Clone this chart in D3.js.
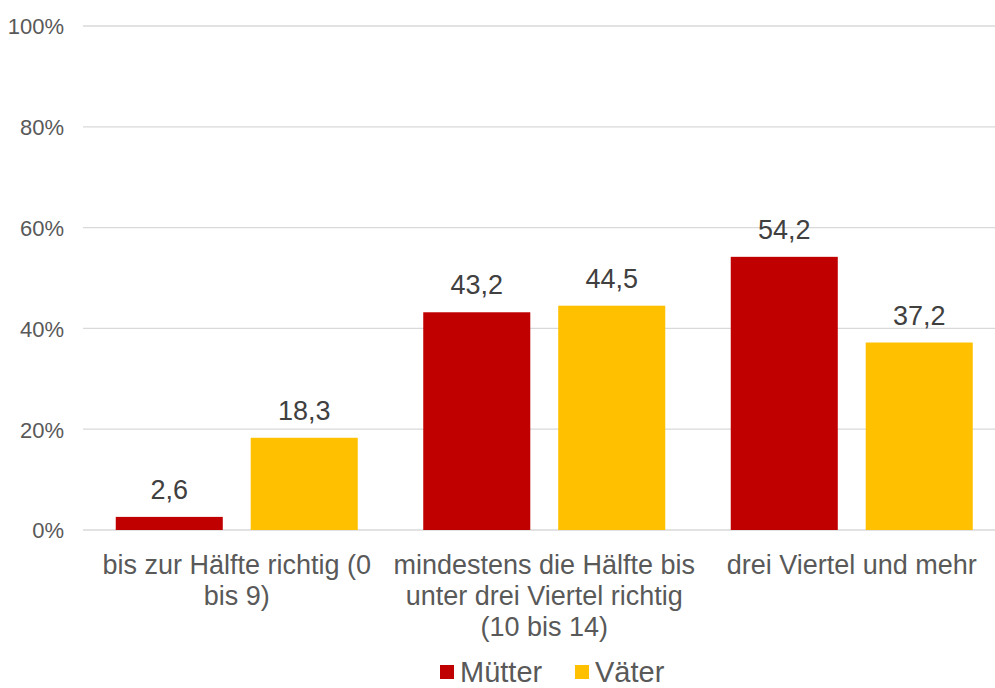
<!DOCTYPE html>
<html>
<head>
<meta charset="utf-8">
<script src="https://cdn.jsdelivr.net/npm/d3@7"></script>
<style>
  body { margin: 0; background: #fff; }
  svg { display: block; font-family: "Liberation Sans", Arial, sans-serif; }
</style>
</head>
<body>
<svg id="chart" width="995" height="688"></svg>
<script>
const categories = [
  "bis zur Hälfte richtig (0 bis 9)",
  "mindestens die Hälfte bis unter drei Viertel richtig (10 bis 14)",
  "drei Viertel und mehr"
];
const seriesNames = ["Mütter", "Väter"];
const muetter = [2.6, 43.2, 54.2];
const vaeter = [18.3, 44.5, 37.2];
const yTicks = [0, 20, 40, 60, 80, 100];
const colors = ["#C00000", "#FFC000"];

const svg = d3.select("#chart");
const width = 995, height = 688;
const plotLeft = 83, plotRight = 1005.5, plotTop = 26, plotBottom = 530;

const x0 = d3.scaleBand().domain(categories).range([plotLeft, plotRight]).padding(0);
const x1 = d3.scaleBand().domain(seriesNames).range([0, x0.bandwidth()])
  .paddingInner(0.207).paddingOuter(0.2426);
const y = d3.scaleLinear().domain([0, 100]).range([plotBottom, plotTop]);
const color = d3.scaleOrdinal().domain(seriesNames).range(colors);

const rows = categories.map((c, i) => ({ cat: c, values: [
  { name: seriesNames[0], value: muetter[i] },
  { name: seriesNames[1], value: vaeter[i] }
]}));

// Grid
const grid = svg.append("g");
grid.selectAll("line").data(yTicks).enter().append("line")
  .attr("x1", plotLeft).attr("x2", plotRight)
  .attr("y1", d => y(d)).attr("y2", d => y(d))
  .attr("stroke", "#d9d9d9").attr("stroke-width", 1.3);

// Y axis labels
const yAxis = svg.append("g")
  .attr("transform", `translate(${plotLeft - 19},0)`)
  .call(d3.axisLeft(y).tickValues(yTicks).tickFormat(d => d + "%").tickSize(0).tickPadding(0));
yAxis.select(".domain").remove();
yAxis.selectAll("text")
  .attr("fill", "#595959")
  .attr("font-size", "22px")
  .attr("font-family", "Liberation Sans, Arial, sans-serif")
  .attr("dy", "0.36em");

// Bars
const groups = svg.selectAll("g.grp").data(rows).enter().append("g")
  .attr("class", "grp")
  .attr("transform", d => `translate(${x0(d.cat)},0)`);

groups.selectAll("rect").data(d => d.values).enter().append("rect")
  .attr("x", d => x1(d.name))
  .attr("width", x1.bandwidth())
  .attr("y", d => y(d.value))
  .attr("height", d => y(0) - y(d.value))
  .attr("fill", d => color(d.name));

groups.selectAll("text.val").data(d => d.values).enter().append("text")
  .attr("class", "val")
  .attr("x", d => x1(d.name) + x1.bandwidth() / 2)
  .attr("y", d => y(d.value) - 18)
  .attr("text-anchor", "middle")
  .attr("fill", "#404040")
  .attr("font-size", "27px")
  .text(d => d3.format(".1f")(d.value).replace(".", ","));

// Category labels with wrapping
const catLabels = svg.selectAll("text.cat").data(categories).enter().append("text")
  .attr("class", "cat")
  .attr("text-anchor", "middle")
  .attr("fill", "#595959")
  .attr("font-size", "27px")
  .attr("x", d => x0(d) + x0.bandwidth() / 2)
  .attr("y", plotBottom + 44);

catLabels.each(function(d) {
  const text = d3.select(this);
  const words = d.split(" ");
  const cx = +text.attr("x");
  let line = [];
  let tspan = text.append("tspan").attr("x", cx).attr("dy", 0);
  words.forEach(w => {
    line.push(w);
    tspan.text(line.join(" "));
    if (tspan.node().getComputedTextLength() > 306 && line.length > 1) {
      line.pop();
      tspan.text(line.join(" "));
      line = [w];
      tspan = text.append("tspan").attr("x", cx).attr("dy", 31).text(w);
    }
  });
});

// Legend
const legend = svg.append("g");
const legendX = [440, 575];
seriesNames.forEach((name, i) => {
  legend.append("rect")
    .attr("x", legendX[i]).attr("y", 665)
    .attr("width", 14).attr("height", 14)
    .attr("fill", color(name));
  legend.append("text")
    .attr("x", legendX[i] + 20).attr("y", 682)
    .attr("fill", "#595959")
    .attr("font-size", "29px")
    .text(name);
});
</script>
</body>
</html>
